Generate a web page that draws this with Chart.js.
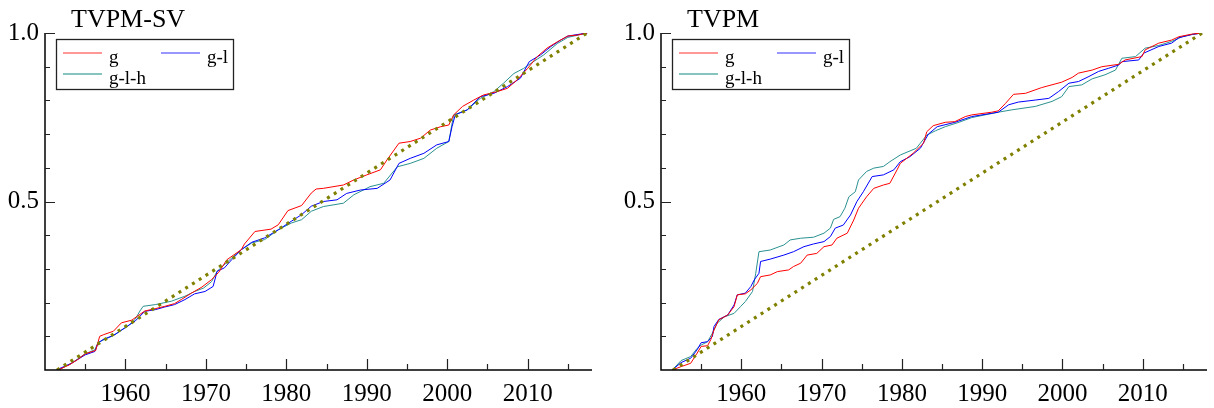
<!DOCTYPE html>
<html>
<head>
<meta charset="utf-8">
<script src="https://cdn.jsdelivr.net/npm/chart.js@4/dist/chart.umd.min.js"></script>
<style>
  html, body { margin: 0; padding: 0; background: #fff; }
  #wrap { position: relative; width: 1214px; height: 408px; overflow: hidden; }
  .panel { position: absolute; top: 0; height: 408px; }
</style>
</head>
<body>
<div id="wrap">
  <div class="panel" style="left:0;width:600px"><canvas id="c1" width="600" height="408"></canvas></div>
  <div class="panel" style="left:616px;width:598px"><canvas id="c2" width="598" height="408"></canvas></div>
</div>
<script>
// ---------------- DATA ----------------
const panelTitles = ['TVPM-SV', 'TVPM'];
const seriesLabels = ['g', 'g-l', 'g-l-h'];
const xTickValues = [1955, 1960, 1965, 1970, 1975, 1980, 1985, 1990, 1995, 2000, 2005, 2010, 2015];
const xLabelValues = [1960, 1970, 1980, 1990, 2000, 2010];
const yTickValues = [0.1, 0.2, 0.3, 0.4, 0.5, 0.6, 0.7, 0.8, 0.9, 1.0];
const yLabelValues = [0.5, 1.0];

// 45-degree reference line [year, value]
const diagonal = [[1951.5, 0], [2017.4, 1.0]];

// TVPM-SV panel
const svG = [[1951.6,0],[1953,0.015],[1954,0.03],[1955,0.048],[1956.3,0.058],[1956.8,0.1],[1957.3,0.105],[1958.5,0.115],[1959.5,0.14],[1960.8,0.148],[1961.5,0.16],[1962.4,0.175],[1963.7,0.182],[1964.9,0.189],[1966.1,0.197],[1967,0.21],[1968.2,0.228],[1969.5,0.246],[1970.7,0.268],[1971.6,0.29],[1972.6,0.327],[1973.5,0.342],[1974.4,0.357],[1974.8,0.374],[1976.1,0.411],[1978.1,0.418],[1979,0.431],[1980.2,0.473],[1981.9,0.488],[1983.1,0.525],[1983.7,0.537],[1984.6,0.539],[1987.1,0.549],[1988.4,0.564],[1990,0.579],[1991.7,0.594],[1992.5,0.623],[1994,0.673],[1995.4,0.678],[1996.7,0.688],[1997.9,0.712],[1999.2,0.722],[2000.2,0.727],[2000.8,0.757],[2001.9,0.782],[2003.3,0.801],[2004.5,0.816],[2006.2,0.826],[2007.5,0.836],[2008.7,0.861],[2010,0.895],[2011.2,0.93],[2012.4,0.955],[2013.7,0.974],[2015,0.991],[2016.2,0.994],[2017.4,1.0]];
const svGL = [[1951.4,0],[1953.3,0.02],[1955,0.045],[1956.2,0.055],[1956.6,0.08],[1957.2,0.09],[1958.7,0.105],[1959.9,0.125],[1961.2,0.145],[1962.4,0.174],[1963.7,0.179],[1964.9,0.187],[1966.1,0.194],[1967.4,0.209],[1968.6,0.226],[1969.9,0.233],[1970.9,0.248],[1971.4,0.293],[1972.3,0.303],[1973.2,0.327],[1974.4,0.357],[1975.7,0.379],[1977.3,0.392],[1979,0.416],[1980.6,0.441],[1981.9,0.461],[1983.1,0.486],[1984.6,0.5],[1986.3,0.505],[1987.5,0.524],[1989.2,0.534],[1991.3,0.539],[1992.9,0.564],[1994,0.613],[1995.4,0.628],[1997.1,0.643],[1998.7,0.668],[2000.2,0.678],[2000.6,0.722],[2001,0.757],[2002.5,0.772],[2004.1,0.811],[2005.8,0.821],[2007.5,0.841],[2009.1,0.866],[2010.2,0.915],[2011.6,0.935],[2012.9,0.96],[2014.1,0.979],[2015,0.991],[2017.4,1.0]];
const svGLH = [[1951.7,0],[1953.3,0.02],[1955,0.048],[1956.2,0.06],[1956.6,0.082],[1958.3,0.1],[1960.3,0.13],[1961.2,0.15],[1961.8,0.175],[1962.2,0.189],[1963.7,0.194],[1965.7,0.204],[1967.4,0.219],[1968.6,0.233],[1969.7,0.243],[1970.7,0.262],[1971.4,0.293],[1973.2,0.332],[1974.4,0.357],[1975.7,0.377],[1977.3,0.387],[1979,0.416],[1980.6,0.436],[1981.9,0.446],[1983.1,0.471],[1984.6,0.485],[1987.1,0.495],[1988.4,0.52],[1990.4,0.544],[1992.1,0.554],[1993.8,0.603],[1995.4,0.613],[1997.1,0.628],[1998.7,0.658],[2000.2,0.678],[2000.8,0.757],[2002.5,0.772],[2004.1,0.806],[2005.8,0.826],[2007,0.851],[2008.3,0.88],[2009.5,0.895],[2010.4,0.91],[2012,0.935],[2013.7,0.969],[2015,0.987],[2017.4,1.0]];

// TVPM panel
const tvG = [[1951.4,0],[1952.5,0.01],[1953.7,0.02],[1954.5,0.05],[1955,0.07],[1955.8,0.072],[1956.2,0.09],[1956.6,0.119],[1957.2,0.149],[1958.3,0.163],[1959.1,0.188],[1959.5,0.223],[1960.5,0.226],[1961.2,0.238],[1962,0.257],[1962.4,0.277],[1963.6,0.282],[1964.5,0.292],[1965.9,0.297],[1966.5,0.307],[1967.4,0.317],[1968.2,0.341],[1969.4,0.346],[1970.3,0.366],[1971.3,0.371],[1971.9,0.391],[1973.2,0.406],[1974,0.445],[1974.6,0.48],[1975.6,0.514],[1976.5,0.539],[1977.7,0.549],[1978.5,0.554],[1979.4,0.594],[1979.8,0.613],[1981.4,0.643],[1982.7,0.673],[1983.1,0.707],[1983.9,0.725],[1985.4,0.735],[1986.6,0.737],[1987.9,0.752],[1988.7,0.757],[1991.2,0.765],[1992,0.769],[1992.9,0.791],[1993.9,0.818],[1995.4,0.821],[1997.4,0.838],[1999.9,0.854],[2001.2,0.868],[2002,0.881],[2003.7,0.89],[2004.9,0.9],[2007,0.907],[2007.8,0.92],[2009.9,0.93],[2010.3,0.95],[2012,0.97],[2013.6,0.979],[2014.5,0.989],[2016.2,0.997],[2017.4,1.0]];
const tvGL = [[1951.4,0],[1952.5,0.022],[1953.7,0.035],[1954.5,0.06],[1955,0.081],[1955.8,0.084],[1956.4,0.099],[1956.6,0.129],[1957.2,0.15],[1958.3,0.163],[1959.1,0.193],[1959.5,0.223],[1960.5,0.228],[1961.2,0.248],[1961.6,0.267],[1962.2,0.287],[1962.4,0.322],[1963.6,0.329],[1965.3,0.341],[1966.5,0.351],[1967.8,0.366],[1969,0.374],[1970.3,0.381],[1971.1,0.396],[1971.7,0.421],[1972.7,0.43],[1973.6,0.46],[1974.4,0.5],[1975.2,0.529],[1976.3,0.574],[1977.7,0.579],[1979,0.594],[1979.8,0.618],[1981,0.633],[1982.3,0.658],[1983.3,0.7],[1984.4,0.722],[1986.6,0.735],[1988.7,0.752],[1992,0.765],[1993.3,0.787],[1994.5,0.795],[1996.6,0.801],[1998.3,0.806],[1999.5,0.826],[2000.8,0.851],[2002,0.856],[2003.3,0.871],[2004.5,0.886],[2005.7,0.895],[2007,0.905],[2007.4,0.915],[2009.5,0.92],[2010.1,0.94],[2012,0.96],[2013.6,0.97],[2014.5,0.986],[2016.2,0.996],[2017.4,1.0]];
const tvGLH = [[1951.4,0],[1952.5,0.028],[1953.7,0.04],[1954.5,0.064],[1955,0.074],[1955.8,0.084],[1956.4,0.109],[1957,0.139],[1957.9,0.158],[1959.1,0.168],[1959.9,0.188],[1960.5,0.203],[1961.4,0.233],[1961.8,0.287],[1962.2,0.351],[1963.6,0.356],[1965.3,0.371],[1966.1,0.386],[1967.4,0.391],[1969,0.394],[1970.3,0.406],[1971.1,0.421],[1971.5,0.447],[1972.3,0.455],[1972.9,0.48],[1973.4,0.514],[1974.2,0.529],[1974.6,0.564],[1975.6,0.589],[1976.5,0.599],[1977.7,0.604],[1978.5,0.618],[1979.8,0.638],[1981.8,0.658],[1982.3,0.673],[1983.1,0.697],[1984.2,0.71],[1985.4,0.722],[1987.1,0.735],[1988.7,0.749],[1992,0.765],[1993.7,0.772],[1996.6,0.782],[1998.7,0.797],[1999.9,0.811],[2000.8,0.841],[2002.4,0.846],[2003.7,0.864],[2005.3,0.876],[2006.6,0.89],[2007.4,0.925],[2009.1,0.93],[2010.3,0.955],[2012,0.963],[2013.6,0.975],[2014.9,0.989],[2016.2,0.996],[2017.4,1.0]];

// ---------------- STYLE ----------------
const SERIF = "'Liberation Serif', 'Times New Roman', serif";
const seriesColors = ['#ff0000', '#0000ff', '#2a9090'];
const legendColors = ['rgba(255,70,70,0.75)', 'rgba(70,70,255,0.75)', 'rgba(40,150,140,0.75)'];
const diagColor = '#808000';

const toXY = arr => arr.map(p => ({ x: p[0], y: p[1] }));

// custom axes / title / legend plugin
const decorPlugin = {
  id: 'decor',
  afterDraw(chart, args, opts) {
    const ctx = chart.ctx;
    const ca = chart.chartArea;
    const xs = chart.scales.x, ys = chart.scales.y;
    ctx.save();
    // axes lines
    ctx.strokeStyle = '#000';
    ctx.lineWidth = 1.5;
    ctx.beginPath();
    ctx.moveTo(ca.left, ys.getPixelForValue(1.0));
    ctx.lineTo(ca.left, ca.bottom);
    ctx.lineTo(ca.right, ca.bottom);
    ctx.stroke();
    // ticks
    ctx.lineWidth = 1.2;
    ctx.strokeStyle = '#222';
    ctx.beginPath();
    yTickValues.forEach(v => {
      const py = Math.round(ys.getPixelForValue(v)) + 0.5;
      const len = yLabelValues.some(l => Math.abs(l - v) < 1e-6) ? 10 : 5;
      ctx.moveTo(ca.left, py);
      ctx.lineTo(ca.left + len, py);
    });
    xTickValues.forEach(v => {
      const px = Math.round(xs.getPixelForValue(v)) + 0.5;
      const len = xLabelValues.includes(v) ? 11 : 6;
      ctx.moveTo(px, ca.bottom);
      ctx.lineTo(px, ca.bottom - len);
    });
    ctx.stroke();
    // title
    ctx.fillStyle = '#000';
    ctx.font = '26px ' + SERIF;
    ctx.textAlign = 'left';
    ctx.textBaseline = 'alphabetic';
    ctx.fillText(opts.title, ca.left + 26, 27);
    // legend box
    const bx = ca.left + 11, by = ca.top + 6, bw = 177, bh = 50;
    ctx.fillStyle = '#fff';
    ctx.fillRect(bx, by, bw, bh);
    ctx.strokeStyle = '#222';
    ctx.lineWidth = 1.3;
    ctx.strokeRect(bx + 0.5, by + 0.5, bw, bh);
    const slots = [[0, 0], [1, 0], [0, 1]];
    ctx.font = '19px ' + SERIF;
    ctx.textBaseline = 'alphabetic';
    seriesLabels.forEach((lab, i) => {
      const [col, row] = slots[i];
      const lx = bx + 7 + col * 98;
      const ly = by + 14 + row * 21;
      ctx.strokeStyle = legendColors[i];
      ctx.lineWidth = 1.6;
      ctx.beginPath();
      ctx.moveTo(lx, ly);
      ctx.lineTo(lx + 39, ly);
      ctx.stroke();
      ctx.fillStyle = '#000';
      ctx.fillText(lab, lx + 46, by + 24 + row * 21);
    });
    ctx.restore();
  }
};

function makeChart(id, title, sG, sGL, sGLH, padRight) {
  const series = [sG, sGL, sGLH];
  const datasets = series.map((s, i) => ({
    label: seriesLabels[i],
    data: toXY(s),
    borderColor: seriesColors[i],
    borderWidth: 1.0,
    pointRadius: 0,
    tension: 0,
    fill: false,
    order: i + 1
  }));
  datasets.push({
    label: '45°',
    data: toXY(diagonal),
    borderColor: diagColor,
    borderWidth: 3.2,
    borderDash: [3, 5],
    borderCapStyle: 'butt',
    pointRadius: 0,
    fill: false,
    order: 0
  });
  return new Chart(document.getElementById(id), {
    type: 'line',
    data: { datasets },
    plugins: [decorPlugin],
    options: {
      responsive: false,
      animation: false,
      events: [],
      layout: { padding: { top: 33, right: padRight, left: 0, bottom: 0 } },
      plugins: {
        legend: { display: false },
        tooltip: { enabled: false },
        title: { display: false },
        decor: { title }
      },
      scales: {
        x: {
          type: 'linear',
          min: 1950,
          max: 2018,
          afterFit: s => { s.height = 38; },
          grid: { display: false, drawTicks: false },
          border: { display: false },
          ticks: {
            stepSize: 10,
            includeBounds: false,
            autoSkip: false,
            maxRotation: 0,
            padding: 9,
            color: '#000',
            font: { family: SERIF, size: 25 },
            callback: v => (xLabelValues.includes(v) ? String(v) : '')
          }
        },
        y: {
          type: 'linear',
          min: 0,
          max: 1,
          afterFit: s => { s.width = 45; },
          grid: { display: false, drawTicks: false },
          border: { display: false },
          ticks: {
            stepSize: 0.5,
            padding: 6,
            color: '#000',
            font: { family: SERIF, size: 25 },
            callback: v => (yLabelValues.some(l => Math.abs(l - v) < 1e-6) ? v.toFixed(1) : '')
          }
        }
      }
    }
  });
}

function build() {
  makeChart('c1', panelTitles[0], svG, svGL, svGLH, 8);
  makeChart('c2', panelTitles[1], tvG, tvGL, tvGLH, 7);
}
if (document.fonts && document.fonts.load) {
  Promise.all([
    document.fonts.load("25px 'Liberation Serif'"),
    document.fonts.load("26px 'Liberation Serif'")
  ]).then(build, build);
} else {
  build();
}
</script>
</body>
</html>
